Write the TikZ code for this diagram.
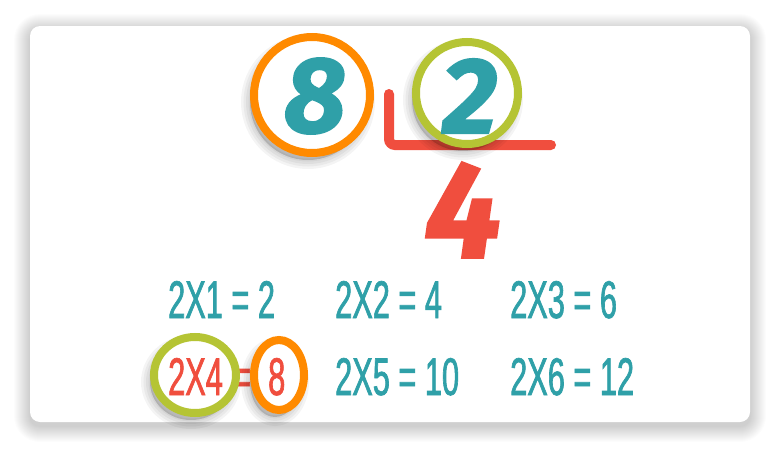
\documentclass[tikz,border=0pt]{standalone}
\usepackage{fontspec}
\usetikzlibrary{shapes.geometric}
\newfontfamily\brushfont{Fira Sans}[BoldItalicFeatures={FakeBold=1.5}]
\newfontfamily\tabfont{Liberation Sans}[FakeStretch=0.58, FakeBold=1.2]
\definecolor{tealc}{HTML}{2FA0A8}
\definecolor{redc}{HTML}{F04E3E}
\definecolor{orangec}{HTML}{FF8A00}
\definecolor{greenc}{HTML}{B5C434}
\tikzset{
  shlayer/.style={preaction={draw=black, fill=black, opacity=0.045, line width=#1,
      transform canvas={xshift=-4pt, yshift=-7pt}}},
  ringshadow/.style={shlayer=18pt, shlayer=13pt, shlayer=8pt, shlayer=3pt},
  ring/.style={draw=#1, line width=8pt, fill=white, inner sep=0pt, ringshadow},
  bignum/.style={inner sep=0pt, font=\brushfont\bfseries\itshape\fontsize{108}{110}\selectfont},
  tabtext/.style={inner sep=0pt, anchor=base west, text=tealc, font=\tabfont\fontsize{53}{60}\selectfont},
}
\begin{document}
\begin{tikzpicture}[x=1pt,y=-1pt]
\useasboundingbox (0,0) rectangle (780,450);
\fill[white] (0,0) rectangle (780,450);
% card shadow (soft, layered)
\foreach \i in {1,...,16} {
  \fill[black, opacity=0.011, rounded corners=10pt+\i pt]
    (30-\i,26-\i+4) rectangle (750+\i,422+\i+4);
}
% card
\fill[white, rounded corners=10pt] (30,26) rectangle (750,422);
% division bracket
\coordinate (Ltop) at (389,94);
\coordinate (Lcorner) at (389,145);
\coordinate (Lend) at (551,145);
\draw[redc, line width=10pt, line cap=round, rounded corners=6pt] (Ltop) -- (Lcorner) -- (Lend);
% dividend and divisor
\node[ring=orangec, circle, minimum size=116pt] (c8) at (312,95) {};
\node[bignum, text=tealc] (n8) at (315,96) {8};
\node[ring=greenc, circle, minimum size=102pt] (c2) at (467,93) {};
\node[bignum, text=tealc] (n2) at (470,96) {2};
% quotient
\node[bignum, text=redc, font=\brushfont\bfseries\itshape\fontsize{138}{140}\selectfont] (n4) at (463,210) {4};
% table row 1
\node[tabtext] (t1) at (168,318) {2X1 = 2};
\node[tabtext] (t2) at (335,318) {2X2 = 4};
\node[tabtext] (t3) at (510,318) {2X3 = 6};
% table row 2
\node[tabtext, text=redc] (eq) at (233,395) {=};
\node[ring=greenc, ellipse, minimum width=82pt, minimum height=76pt] (e24) at (195,375) {};
\node[ring=orangec, ellipse, minimum width=50pt, minimum height=70pt] (e8) at (279,375) {};
\node[tabtext, text=redc] (t4) at (168,395) {2X4};
\node[tabtext, text=redc] (r8) at (268,395) {8};
\node[tabtext] (t5) at (335,395) {2X5 = 10};
\node[tabtext] (t6) at (510,395) {2X6 = 12};
\end{tikzpicture}
\end{document}
